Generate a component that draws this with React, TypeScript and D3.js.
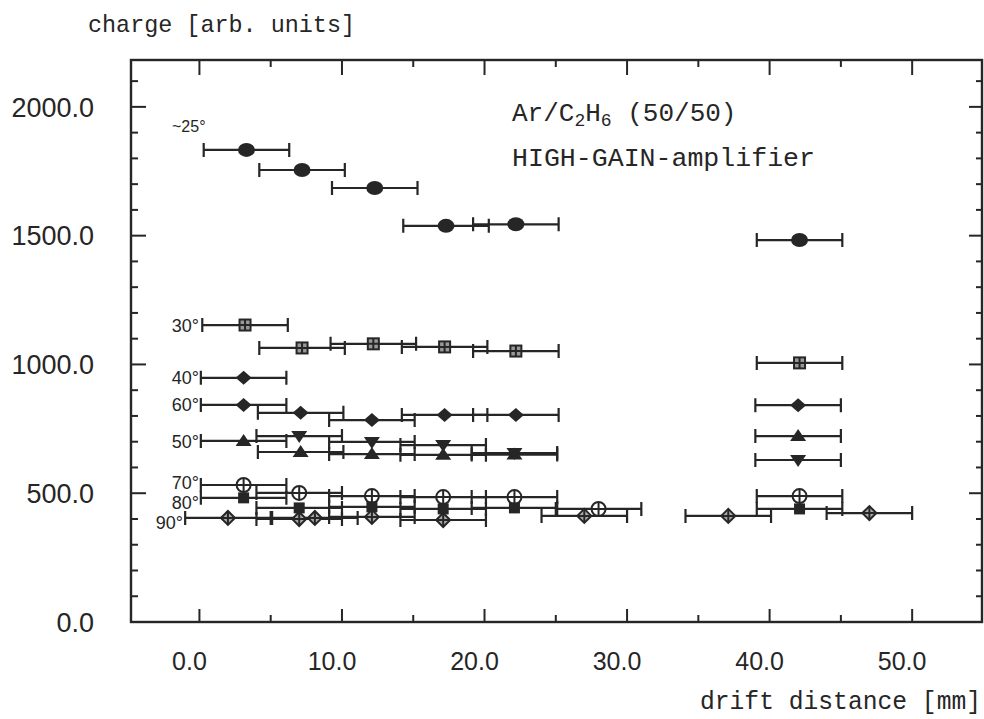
import React, { useEffect, useRef } from 'react';
import * as d3 from 'd3';

// drift distance [mm] and charge [arb. units]
const s25x = [3.3, 7.2, 12.3, 17.3, 22.2, 42.1];
const s25q = [1833, 1755, 1685, 1538, 1544, 1483];
const s30x = [3.2, 7.2, 12.2, 17.2, 22.2, 42.1];
const s30q = [1153, 1064, 1080, 1068, 1052, 1006];
const s40x = [3.1];
const s40q = [948];
const s60x = [3.1, 7.1, 12.1, 17.2, 22.2, 42.0];
const s60q = [843, 812, 784, 804, 804, 842];
const s50ux = [3.1, 7.1, 12.1, 17.1, 22.1, 42.0];
const s50uq = [703, 660, 652, 649, 650, 722];
const s50dx = [7.0, 12.1, 17.1, 22.1, 42.0];
const s50dq = [722, 699, 687, 656, 629];
const s70x = [3.1, 7.0, 12.1, 17.1, 22.1, 28.0, 42.1];
const s70q = [532, 501, 489, 485, 485, 439, 489];
const s80x = [3.1, 7.0, 12.1, 17.1, 22.1, 42.1];
const s80q = [482, 443, 447, 439, 443, 439];
const s90x = [2.0, 7.0, 8.1, 12.1, 17.1, 27.0, 37.1, 47.0];
const s90q = [404, 400, 404, 408, 396, 412, 412, 423];
const xErr = 3.0;

const angleLabels = ['~25°', '30°', '40°', '60°', '50°', '70°', '80°', '90°'];
const angleLabelQ = [1925, 1153, 948, 843, 699, 542, 463, 388];

const xTicks = [0, 10, 20, 30, 40, 50];
const yTicks = [0, 500, 1000, 1500, 2000];

const INK = '#262626';

type Marker = 'circle' | 'boxplus' | 'diamond' | 'tri' | 'itri' | 'oplus' | 'square' | 'odiamond';

const series: { xs: number[]; qs: number[]; m: Marker }[] = [
  { xs: s25x, qs: s25q, m: 'circle' },
  { xs: s30x, qs: s30q, m: 'boxplus' },
  { xs: s40x, qs: s40q, m: 'diamond' },
  { xs: s60x, qs: s60q, m: 'diamond' },
  { xs: s50ux, qs: s50uq, m: 'tri' },
  { xs: s50dx, qs: s50dq, m: 'itri' },
  { xs: s70x, qs: s70q, m: 'oplus' },
  { xs: s80x, qs: s80q, m: 'square' },
  { xs: s90x, qs: s90q, m: 'odiamond' },
];

const drawMarker = (g: any, m: Marker) => {
  const line = (sel: any) => sel.attr('stroke', INK).attr('stroke-width', 2);
  if (m === 'circle') {
    g.append('ellipse').attr('rx', 8.5).attr('ry', 7).attr('fill', INK);
  } else if (m === 'boxplus') {
    line(g.append('rect').attr('x', -5.5).attr('y', -5.5).attr('width', 11).attr('height', 11).attr('fill', '#999'));
    line(g.append('path').attr('d', 'M-5.5,0H5.5M0,-5.5V5.5'));
  } else if (m === 'diamond') {
    g.append('path').attr('d', 'M-8,0L0,-7L8,0L0,7Z').attr('fill', INK);
  } else if (m === 'tri') {
    g.append('path').attr('d', 'M-8,5L0,-7L8,5Z').attr('fill', INK);
  } else if (m === 'itri') {
    g.append('path').attr('d', 'M-8,-5L0,7L8,-5Z').attr('fill', INK);
  } else if (m === 'oplus') {
    line(g.append('circle').attr('r', 7).attr('fill', 'white'));
    line(g.append('path').attr('d', 'M-7,0H7M0,-7V7'));
  } else if (m === 'square') {
    g.append('rect').attr('x', -5.5).attr('y', -5.5).attr('width', 11).attr('height', 11).attr('fill', INK);
  } else if (m === 'odiamond') {
    line(g.append('path').attr('d', 'M-7,0L0,-7L7,0L0,7Z').attr('fill', '#aaa'));
    line(g.append('path').attr('d', 'M-7,0H7M0,-7V7'));
  }
};

const App = () => {
  const svgRef = useRef<SVGSVGElement>(null);
  const width = 984;
  const height = 719;

  useEffect(() => {
    const svg = d3.select(svgRef.current);
    svg.selectAll('*').remove();

    const left = 131, right = 982, top = 60, bottom = 622;
    const x = d3.scaleLinear().domain([-4.8, 54.9]).range([left, right]);
    const y = d3.scaleLinear().domain([0, 2182]).range([bottom, top]);

    svg.append('rect').attr('width', width).attr('height', height).attr('fill', 'white');

    // frame
    svg.append('rect')
      .attr('x', left).attr('y', top)
      .attr('width', right - left).attr('height', bottom - top)
      .attr('fill', 'none').attr('stroke', INK).attr('stroke-width', 2.4);

    const ticks = svg.append('g').attr('stroke', INK).attr('stroke-width', 2);
    d3.range(0, 55, 5).forEach((v) => {
      const major = v % 10 === 0;
      ticks.append('line').attr('x1', x(v)).attr('x2', x(v))
        .attr('y1', bottom).attr('y2', bottom - (major ? 13 : 7));
      ticks.append('line').attr('x1', x(v)).attr('x2', x(v))
        .attr('y1', top).attr('y2', top + (major ? 15 : 7));
    });
    d3.range(100, 2200, 100).forEach((v) => {
      const major = v % 500 === 0;
      ticks.append('line').attr('y1', y(v)).attr('y2', y(v))
        .attr('x1', left).attr('x2', left + (major ? 15 : 7));
      ticks.append('line').attr('y1', y(v)).attr('y2', y(v))
        .attr('x1', right).attr('x2', right - (major ? 13 : 6));
    });

    const sans = 'Liberation Sans, Arial, sans-serif';
    const mono = 'Liberation Mono, Courier New, monospace';

    svg.append('g').selectAll('text').data(xTicks).join('text')
      .attr('x', (d) => x(d) - 10).attr('y', 670)
      .attr('text-anchor', 'middle').attr('font-family', sans).attr('font-size', 25)
      .attr('fill', INK).text((d) => d.toFixed(1));

    svg.append('g').selectAll('text').data(yTicks).join('text')
      .attr('x', 94).attr('y', (d) => y(d)).attr('dy', '0.36em')
      .attr('text-anchor', 'end').attr('font-family', sans).attr('font-size', 27)
      .attr('fill', INK).text((d) => d.toFixed(1));

    svg.append('text').attr('x', 88).attr('y', 32)
      .attr('font-family', mono).attr('font-size', 24).attr('fill', INK)
      .attr('textLength', 267).attr('lengthAdjust', 'spacingAndGlyphs')
      .text('charge [arb. units]');

    svg.append('text').attr('x', 700).attr('y', 709)
      .attr('font-family', mono).attr('font-size', 25).attr('fill', INK)
      .attr('textLength', 281).attr('lengthAdjust', 'spacingAndGlyphs')
      .text('drift distance [mm]');

    const gas = svg.append('text').attr('x', 512).attr('y', 121)
      .attr('font-family', mono).attr('font-size', 26).attr('fill', INK);
    gas.append('tspan').text('Ar/C');
    gas.append('tspan').attr('font-size', 18).attr('dy', 5).text('2');
    gas.append('tspan').attr('dy', -5).text('H');
    gas.append('tspan').attr('font-size', 18).attr('dy', 5).text('6');
    gas.append('tspan').attr('dy', -5).text(' (50/50)');

    svg.append('text').attr('x', 512).attr('y', 166)
      .attr('font-family', mono).attr('font-size', 26).attr('fill', INK)
      .attr('textLength', 303).attr('lengthAdjust', 'spacingAndGlyphs')
      .text('HIGH-GAIN-amplifier');

    // angle labels
    svg.append('g').selectAll('text').data(angleLabels).join('text')
      .attr('x', (d, i) => (i === 0 ? 172 : i === 7 ? 183 : 199))
      .attr('y', (d, i) => y(angleLabelQ[i])).attr('dy', '0.36em')
      .attr('text-anchor', (d, i) => (i === 0 ? 'start' : 'end'))
      .attr('font-family', sans).attr('font-size', (d, i) => (i === 0 ? 16 : 18))
      .attr('fill', INK).text((d) => d);

    // error bars and markers
    const pts = series.flatMap((s) => s.xs.map((v, i) => ({ x: v, q: s.qs[i], m: s.m })));
    const bars = svg.append('g').attr('stroke', INK).attr('stroke-width', 2.2).attr('fill', 'none');
    pts.forEach((p) => {
      const x0 = x(p.x - xErr), x1 = x(p.x + xErr), yy = y(p.q);
      bars.append('path').attr('d', `M${x0},${yy}H${x1}M${x0},${yy - 7}V${yy + 7}M${x1},${yy - 7}V${yy + 7}`);
    });
    pts.forEach((p) => {
      const g = svg.append('g').attr('transform', `translate(${x(p.x)},${y(p.q)})`);
      drawMarker(g, p.m);
    });
  }, []);

  return (
    <svg
      ref={svgRef}
      width={width}
      height={height}
      style={{ position: 'absolute', left: 0, top: 0 }}
    />
  );
};

export default App;
